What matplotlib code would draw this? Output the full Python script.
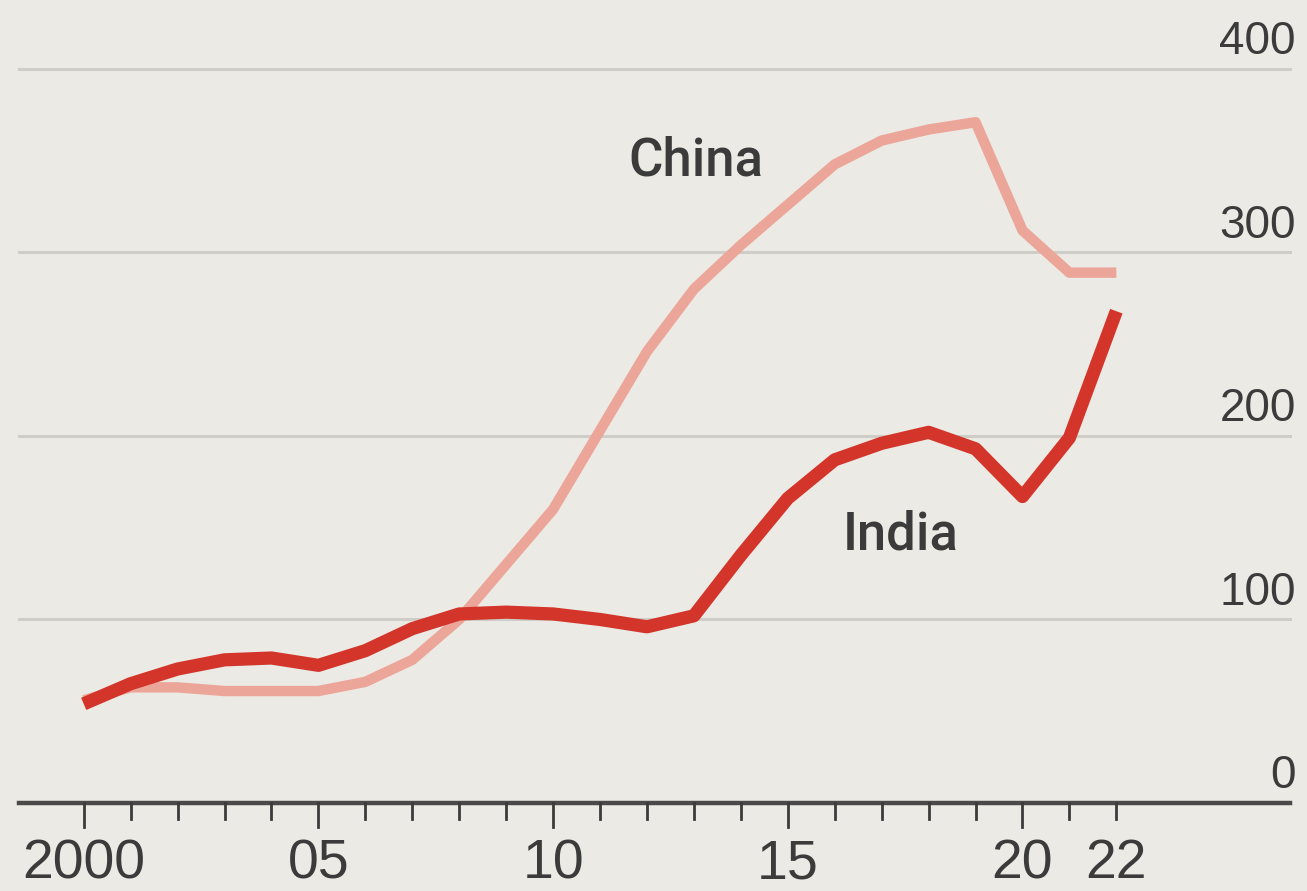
import matplotlib.pyplot as plt
import numpy as np

years = list(range(2000, 2023))
china = [56, 63, 63, 61, 61, 61, 66, 78, 100, 130, 160, 203, 246, 280, 304,
         326, 348, 361, 367, 371, 312, 289, 289]
india = [54, 65, 73, 78, 79, 75, 83, 95, 103, 104, 103, 100, 96, 102, 135,
         166, 187, 196, 202, 193, 167, 199, 268]
ytick_vals = [0, 100, 200, 300, 400]
xtick_labels = {2000: "2000", 2005: "05", 2010: "10", 2015: "15", 2020: "20", 2022: "22"}

bg = '#ebeae4'
text_col = '#3b3b3b'

fig = plt.figure(figsize=(13.07, 8.91), dpi=100, facecolor=bg)
ax = fig.add_axes([0.0145, 0.0988, 0.9725, 0.8238], facecolor=bg)

ax.set_xlim(1998.62, 2025.7)
ax.set_ylim(0, 400)

# horizontal gridlines with the value sitting on top, right-aligned
for v in ytick_vals[1:]:
    ax.axhline(v, color='#cfcdc7', lw=2.2, zorder=1, clip_on=False)
for v in ytick_vals:
    ax.text(1.0045, v + 8, str(v), transform=ax.get_yaxis_transform(),
            ha='right', va='baseline', fontsize=33, color=text_col,
            family='Liberation Sans')

ax.axhline(0, color='#4a4a4a', lw=3.2, zorder=4, clip_on=False)

ax.plot(years, china, color='#eba699', lw=7.5, solid_joinstyle='round',
        solid_capstyle='butt', zorder=2)
ax.plot(years, india, color='#d3352b', lw=9.5, solid_joinstyle='round',
        solid_capstyle='butt', zorder=3)

ax.text(2013.05, 350, "China", fontsize=38, color=text_col, ha='center',
        va='center', family='Roboto', fontweight='medium')
ax.text(2017.4, 146, "India", fontsize=38, color=text_col, ha='center',
        va='center', family='Roboto', fontweight='medium')

# year ticks below the baseline: longer every five years
for y in years:
    major = (y % 5 == 0)
    ax.plot([y, y], [0, -13 if major else -9], color='#3b3b3b', lw=2,
            clip_on=False, zorder=4)
for y, lab in xtick_labels.items():
    ax.text(y, -41, lab, ha='center', va='baseline', fontsize=40, color=text_col,
            family='Liberation Sans')

ax.set_xticks([])
ax.set_yticks([])
for s in ax.spines.values():
    s.set_visible(False)

fig.savefig('out.png', dpi=100, facecolor=bg)
